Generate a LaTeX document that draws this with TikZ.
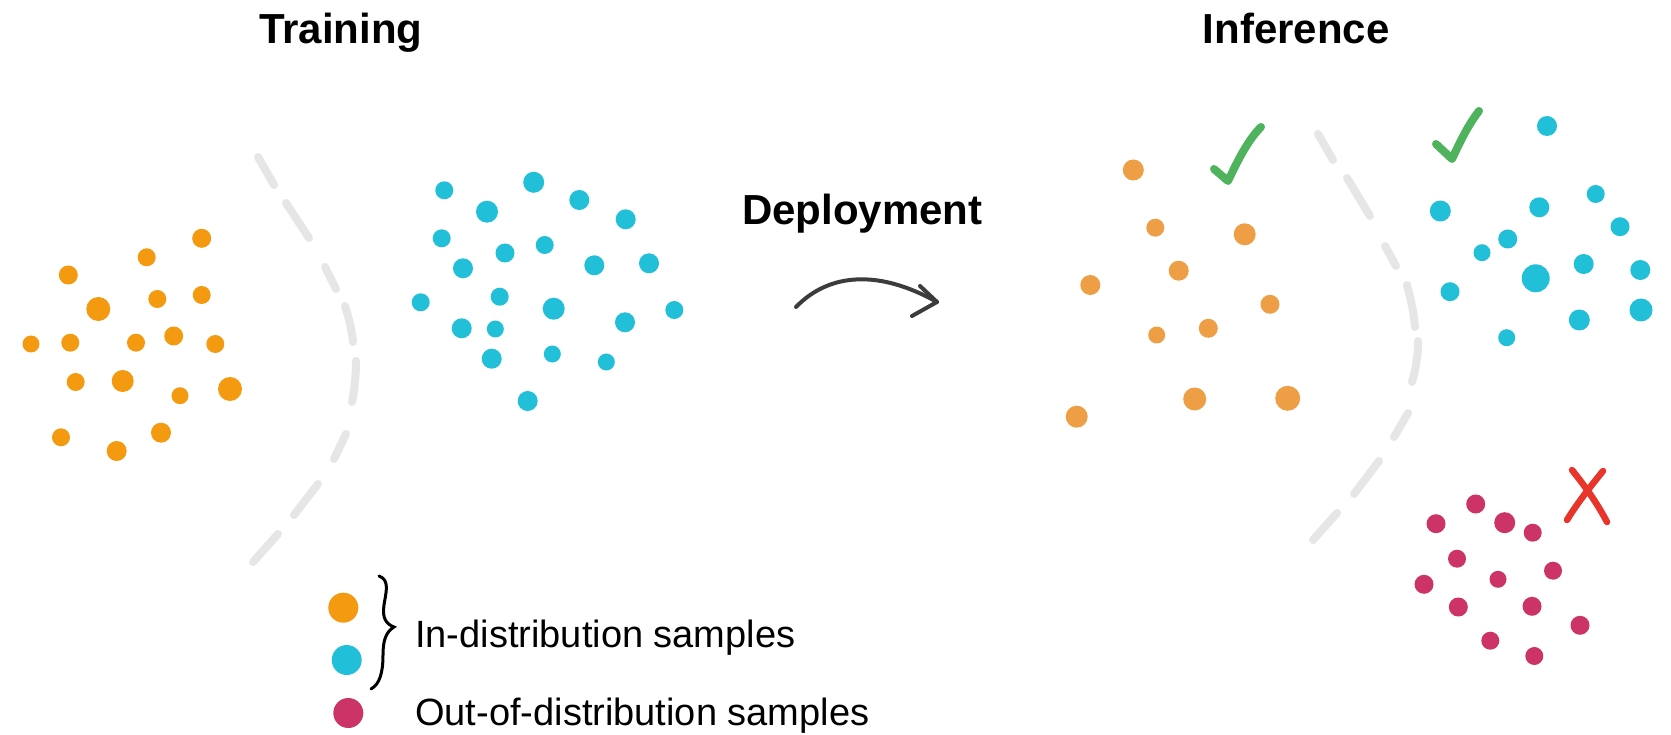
\documentclass[tikz,border=0pt]{standalone}
\usepackage{fontspec}
\setmainfont{Liberation Sans}
\definecolor{trainorange}{HTML}{F39A10}
\definecolor{infororange}{HTML}{EE9F45}
\definecolor{cyandot}{HTML}{22C0D8}
\definecolor{magdot}{HTML}{CC3468}
\definecolor{checkgreen}{HTML}{4FB35E}
\definecolor{xred}{HTML}{E8352B}
\definecolor{arcgray}{HTML}{E6E6E6}
\definecolor{arrowgray}{HTML}{3C3C3C}
\tikzset{
  titletext/.style={anchor=base west, inner sep=0pt, font=\bfseries\fontsize{42}{50}\selectfont},
  legendtext/.style={anchor=base west, inner sep=0pt, font=\fontsize{38}{45}\selectfont},
  arcdash/.style={draw=arcgray, line width=8pt, line cap=round},
  checkmark/.style={draw=checkgreen, line width=8pt, line cap=round, line join=round},
  xmark/.style={draw=xred, line width=6.5pt, line cap=round},
  deployarrow/.style={draw=arrowgray, line width=4pt, line cap=round, line join=round}
}
\begin{document}
\begin{tikzpicture}[x=1pt,y=-1pt]
\fill[white] (0,0) rectangle (1671,735);
\useasboundingbox (0,0) rectangle (1671,735);

% titles
\node[titletext] (training) at (259,43.3) {Training};
\node[titletext] (inference) at (1202.5,43.5) {Inference};
\node[titletext] (deployment) at (742,225) {Deployment};

% training orange dots
\foreach \x/\y/\r in {201.7/238.3/9.5, 146.7/257.3/9, 68.3/275/9.5, 98.3/309/12, 157.3/299/9, 201.7/295/9, 31/344/8.5, 70.3/342.7/9, 136/342.7/9, 173.7/336/9.5, 215.3/344/9, 75.7/382/9, 122.7/381/11, 180/395.7/8.5, 230/389/12, 61/437.3/9, 116.7/451/10, 161/432.7/10}
  \fill[trainorange] (\x,\y) circle[radius=\r pt];

% training cyan dots
\foreach \x/\y/\r in {444.3/190.3/9, 533.7/182.3/10.5, 579.3/200/10, 487/211.7/11, 625.7/219.3/10, 441.7/238.3/9, 505/253/9.5, 544.7/245/9, 463/268.3/10, 594.3/265.3/10, 649/263.3/10, 420.7/302.3/9, 499.7/296.7/9, 553.7/308.7/11, 674.3/310/9, 461.7/328.3/10, 495.3/329/8.5, 625/322.3/10, 491.7/358.7/10, 552.3/354/8.5, 606.3/362/8.5, 527.7/401/10}
  \fill[cyandot] (\x,\y) circle[radius=\r pt];

% left dashed boundary
\draw[arcdash] (258,157) -- (274,185);
\draw[arcdash] (286,203) -- (309,238);
\draw[arcdash] (325,267) -- (336,289);
\draw[arcdash] (345,306) .. controls (350,322) and (352,332) .. (353,342);
\draw[arcdash] (356,361) .. controls (356,378) and (354,392) .. (352,402);
\draw[arcdash] (346,434) -- (334,459);
\draw[arcdash] (318,484) -- (294,515);
\draw[arcdash] (278,534) -- (253,562);

% deployment arrow
\coordinate (arrstart) at (796,307);
\coordinate (arrtip) at (937,302);
\coordinate (barbup) at (920,286);
\coordinate (barbdown) at (912,316);
\draw[deployarrow] (arrstart) .. controls (830,272) and (880,270) .. (arrtip);
\draw[deployarrow] (barbup) -- (arrtip) -- (barbdown);

% inference orange dots
\foreach \x/\y/\r in {1133.3/170/10.5, 1155.3/227.7/9, 1244.7/234.3/11, 1178.7/270.7/10, 1090.3/285/10, 1270/304.3/9.5, 1156.7/335/8.5, 1208.3/328.3/9.5, 1194.7/399/11.5, 1287.7/398.3/12.5, 1076.7/416.7/11}
  \fill[infororange] (\x,\y) circle[radius=\r pt];

% inference cyan dots
\foreach \x/\y/\r in {1547/126/10, 1440.3/211/10.5, 1539.3/207.3/10, 1595.7/194/9, 1620/226.7/9.5, 1507.7/239/9.5, 1482/252.7/8.5, 1535.7/278.3/14, 1583.7/264/10, 1640.3/270/10, 1450/291.7/9.5, 1579.3/320/10.5, 1641/310/11.5, 1506.7/337.7/8.5}
  \fill[cyandot] (\x,\y) circle[radius=\r pt];

% out-of-distribution dots
\foreach \x/\y/\r in {1475.7/504/9.5, 1436/523.7/9.5, 1504.7/522.7/10.5, 1532.7/532.7/9, 1457/558.7/9, 1553/570.7/9, 1424/584.3/9.5, 1498/579.3/8.5, 1458.3/607/9.5, 1532/606.3/9.5, 1580/625.3/9.5, 1490.3/640.7/9, 1534.3/656/9}
  \fill[magdot] (\x,\y) circle[radius=\r pt];

% right dashed boundary
\draw[arcdash] (1318,134) -- (1333,160);
\draw[arcdash] (1347,178) -- (1370,216);
\draw[arcdash] (1385,246) -- (1396,266);
\draw[arcdash] (1407,285) .. controls (1411,300) and (1414,314) .. (1415,327);
\draw[arcdash] (1418,341) .. controls (1418,358) and (1415,372) .. (1412,382);
\draw[arcdash] (1408,413) -- (1394,437);
\draw[arcdash] (1379,461) -- (1354,494);
\draw[arcdash] (1337,513) -- (1313,540);

% check marks and cross
\draw[checkmark] (1214,169) -- (1228,181) .. controls (1238,160) and (1248,140) .. (1261,127);
\draw[checkmark] (1436,144) -- (1452,159) .. controls (1460,142) and (1468,125) .. (1479,111);
\draw[xmark] (1572,470) .. controls (1588,490) and (1598,505) .. (1607,522);
\draw[xmark] (1603,471) .. controls (1590,487) and (1576,505) .. (1567,520);

% legend
\fill[trainorange] (343.3,607.7) circle[radius=15pt];
\fill[cyandot] (346.7,660) circle[radius=15pt];
\fill[magdot] (348.3,713) circle[radius=15pt];
\draw[line width=3pt, line cap=round] (379,576) .. controls (390,580) and (386,592) .. (384,605) .. controls (382,618) and (386,624) .. (394,627) .. controls (386,632) and (383,640) .. (383,655) .. controls (383,672) and (380,684) .. (371,689);
\node[legendtext] (inlabel) at (415,647) {In-distribution samples};
\node[legendtext] (outlabel) at (415,725) {Out-of-distribution samples};
\end{tikzpicture}
\end{document}
